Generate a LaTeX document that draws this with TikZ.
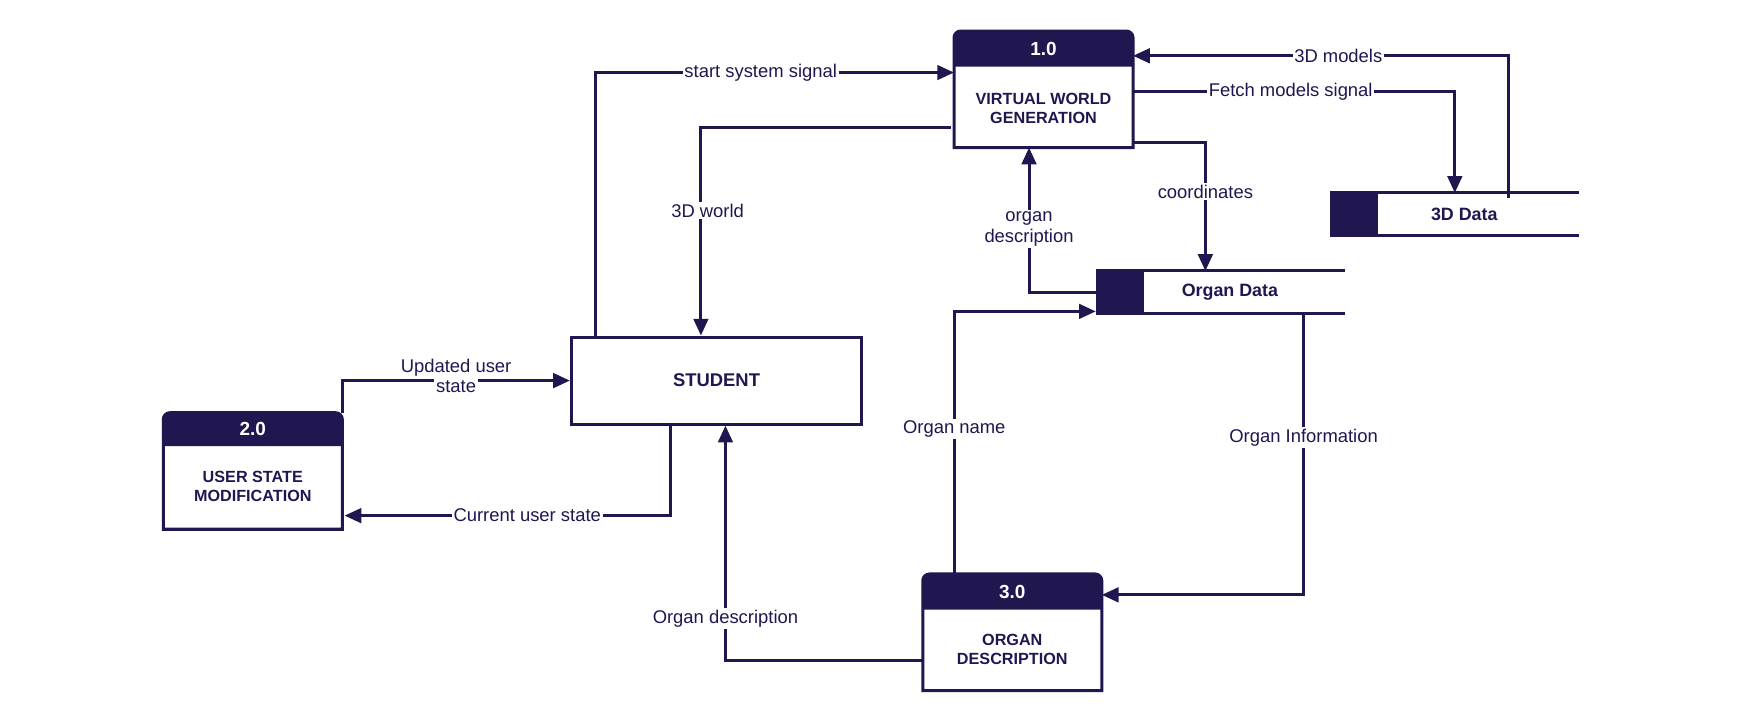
\documentclass[tikz,border=0pt]{standalone}
\usepackage{fontspec}
\setmainfont{Liberation Sans}
\setsansfont{Liberation Sans}
\usetikzlibrary{arrows.meta,positioning,calc}
\definecolor{navy}{RGB}{32,22,80}
\begin{document}
\begin{tikzpicture}[x=1pt,y=-1pt,
  every node/.style={font=\sffamily, text=navy},
  procbox/.style={minimum width=160pt, minimum height=104pt, inner sep=0pt},
  storebox/.style={minimum width=223pt, minimum height=38pt, inner sep=0pt},
  boxtext/.style={font=\sffamily\bfseries\fontsize{14.5}{17}\selectfont, align=center, text=navy},
  headtext/.style={font=\sffamily\bfseries\fontsize{17}{20}\selectfont, text=white},
  lbl/.style={font=\sffamily\fontsize{16.5}{19}\selectfont, fill=white, inner sep=1.5pt, align=center, text=navy},
  lblplain/.style={font=\sffamily\fontsize{16.5}{19}\selectfont, inner sep=1.5pt, text=navy},
  outline/.style={draw=navy, line width=2.7pt},
  flow/.style={draw=navy, line width=2.7pt, -{Triangle[length=15pt,width=13pt]}},
]
\useasboundingbox (0,0) rectangle (1568,638.85);

% ---------- processes ----------
\node[procbox] (p1) at (935,80) {};
\node[procbox] (p2) at (226.5,422) {};
\node[procbox] (p3) at (907,566.5) {};

\foreach \p/\h in {p1/32, p2/30, p3/32}{
  \fill[navy] ([yshift=-\h pt]\p.north west) [rounded corners=6pt] -- (\p.north west) -- (\p.north east) [sharp corners] -- ([yshift=-\h pt]\p.north east) -- cycle;
  \draw[outline] (\p.south west) [rounded corners=6pt] -- (\p.north west) -- (\p.north east) [sharp corners] -- (\p.south east) -- cycle;
}
\node[headtext] (p1h) at ([yshift=-16pt]p1.north) {1.0};
\node[headtext] (p2h) at ([yshift=-15pt]p2.north) {2.0};
\node[headtext] (p3h) at ([yshift=-16pt]p3.north) {3.0};
\node[boxtext] (p1t) at ([yshift=-17pt]p1.center) {VIRTUAL WORLD\\GENERATION};
\node[boxtext] (p2t) at ([yshift=-14pt]p2.center) {USER STATE\\MODIFICATION};
\node[boxtext] (p3t) at ([yshift=-15pt]p3.center) {ORGAN\\DESCRIPTION};

% ---------- external entity ----------
\node[outline, minimum width=260pt, minimum height=78pt, inner sep=0pt, boxtext,
      font=\sffamily\bfseries\fontsize{16.5}{19}\selectfont] (stu) at (642,341) {STUDENT};

% ---------- data stores ----------
\node[storebox] (d3) at (1303.5,192) {};
\node[storebox] (od) at (1093.5,262) {};
\foreach \s in {d3, od}{
  \fill[navy] (\s.north west) rectangle ([xshift=43pt]\s.south west);
  \draw[outline] (\s.north west) -- (\s.north east);
  \draw[outline] (\s.south west) -- (\s.south east);
}
\node[boxtext, font=\sffamily\bfseries\fontsize{16}{19}\selectfont] (d3t) at (1312,192) {3D Data};
\node[boxtext, font=\sffamily\bfseries\fontsize{16}{19}\selectfont] (odt) at (1102,262) {Organ Data};

% ---------- flows ----------
\draw[flow] ([xshift=-108pt]stu.north) |- ([yshift=15pt]p1.west)
  node[lbl, pos=0.73] {start system signal};
\draw[flow] ([yshift=-34pt,xshift=-3pt]p1.west) -| ([xshift=-14pt]stu.north)
  node[lbl, pos=0.7, xshift=6pt] {3D world};
\draw[flow] (p2.north east) |- (stu.west)
  node[lbl, pos=0.75, yshift=-5pt] (lus) {state};
\node[lblplain, above=-1pt of lus] (lus2) {Updated user};
\draw[flow] ([xshift=-41pt]stu.south) |- ([yshift=-40pt,xshift=2pt]p2.east)
  node[lbl, pos=0.72] {Current user state};
\draw[flow] ([yshift=-25.5pt]p3.west) -| ([xshift=8pt]stu.south)
  node[lbl, pos=0.59] {Organ description};
\draw[flow] ([xshift=-52pt]p3.north) |- ([yshift=-17pt]od.west)
  node[lbl, pos=0.277] {Organ name};
\draw[flow] ([xshift=74.5pt]od.south) |- ([yshift=33.5pt]p3.east)
  node[lbl, pos=0.22] {Organ Information};
\draw[flow] (od.west) -| ([xshift=-13pt]p1.south)
  node[lbl, pos=0.72] {organ\\description};
\draw[flow] ([yshift=-48pt]p1.east) -| ([xshift=-13.5pt]od.north)
  node[lbl, pos=0.69] {coordinates};
\draw[flow] ([yshift=-2pt]p1.east) -| (d3.north)
  node[lbl, pos=0.245] {Fetch models signal};
\draw[flow] ([xshift=48.5pt,yshift=-5pt]d3.north) |- ([yshift=30pt]p1.east)
  node[lbl, pos=0.727] {3D models};
\end{tikzpicture}
\end{document}
